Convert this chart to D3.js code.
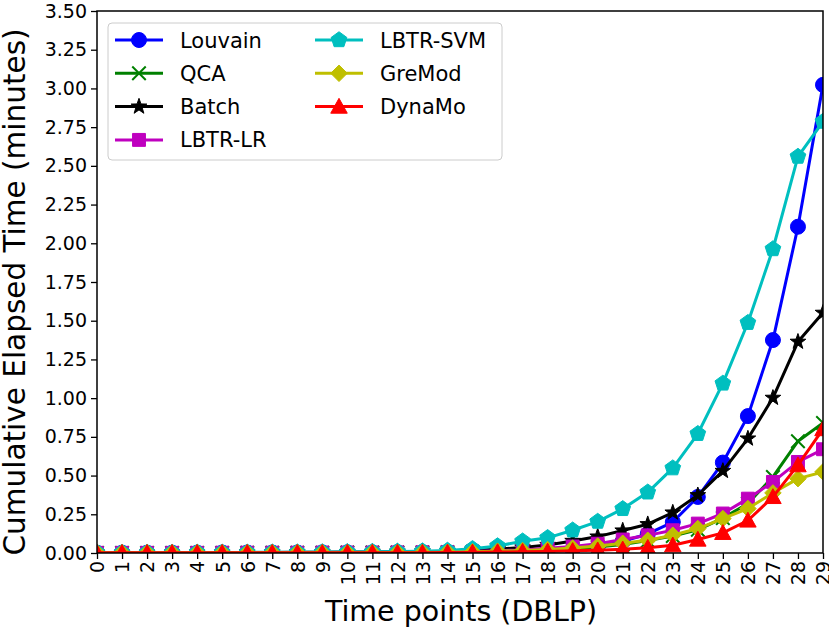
<!DOCTYPE html>
<html>
<head>
<meta charset="utf-8">
<script src="https://cdn.jsdelivr.net/npm/d3@7"></script>
<style>
  body { margin: 0; background: #fff; }
  text { font-family: "DejaVu Sans", sans-serif; fill: #000; }
</style>
</head>
<body>
<svg id="chart" width="829" height="630"></svg>
<script>
// time points 0..29
var timePoints = d3.range(0, 30);
var yTicks = [0, 0.25, 0.5, 0.75, 1, 1.25, 1.5, 1.75, 2, 2.25, 2.5, 2.75, 3, 3.25, 3.5];

var seriesNames = ["Louvain", "QCA", "Batch", "LBTR-LR", "LBTR-SVM", "GreMod", "DynaMo"];
var seriesColors = ["#0000ff", "#008000", "#000000", "#bf00bf", "#00bfbf", "#bfbf00", "#ff0000"];
var seriesMarkers = ["circle", "x", "star", "square", "pentagon", "diamond", "triangle"];

var louvain = [0.002,0.002,0.002,0.002,0.002,0.003,0.003,0.003,0.003,0.004,0.004,0.004,0.005,0.005,0.006,0.007,0.009,0.012,0.016,0.024,0.04,0.076,0.123,0.2,0.362,0.584,0.884,1.375,2.107,3.023];
var qca = [0.001,0.001,0.001,0.001,0.001,0.001,0.002,0.002,0.002,0.002,0.003,0.003,0.003,0.004,0.005,0.006,0.008,0.012,0.018,0.026,0.038,0.055,0.08,0.11,0.15,0.225,0.32,0.491,0.722,0.84];
var batch = [0.002,0.002,0.002,0.003,0.003,0.003,0.004,0.004,0.005,0.005,0.006,0.007,0.008,0.01,0.012,0.018,0.025,0.035,0.052,0.078,0.106,0.145,0.186,0.261,0.373,0.53,0.739,1.002,1.364,1.551];
var lbtrLr = [0.001,0.001,0.001,0.001,0.001,0.002,0.002,0.002,0.002,0.003,0.003,0.003,0.004,0.005,0.006,0.01,0.015,0.02,0.03,0.042,0.06,0.087,0.114,0.147,0.19,0.255,0.351,0.459,0.588,0.67];
var lbtrSvm = [0.003,0.003,0.003,0.003,0.004,0.004,0.004,0.005,0.005,0.006,0.007,0.008,0.01,0.012,0.016,0.027,0.045,0.076,0.098,0.147,0.203,0.285,0.392,0.548,0.77,1.095,1.487,1.963,2.56,2.786];
var greMod = [0.001,0.001,0.001,0.001,0.001,0.001,0.001,0.002,0.002,0.002,0.002,0.003,0.003,0.004,0.005,0.008,0.012,0.016,0.022,0.032,0.045,0.063,0.082,0.115,0.158,0.222,0.287,0.388,0.48,0.524];
var dynaMo = [0.001,0.001,0.001,0.001,0.001,0.001,0.001,0.001,0.001,0.001,0.002,0.002,0.002,0.002,0.003,0.004,0.006,0.008,0.01,0.014,0.018,0.024,0.034,0.05,0.087,0.13,0.21,0.362,0.567,0.8];

var seriesValues = [louvain, qca, batch, lbtrLr, lbtrSvm, greMod, dynaMo];

var margin = {left: 97, right: 6, top: 11, bottom: 77};
var width = 829 - margin.left - margin.right;
var height = 630 - margin.top - margin.bottom;

var svg = d3.select("#chart");
var g = svg.append("g").attr("transform", "translate(" + margin.left + "," + margin.top + ")");

var x = d3.scaleLinear().domain([0, 29]).range([0, width]);
var y = d3.scaleLinear().domain([0, 3.5]).range([height, 0]);

//marker path builders, sizes in px
function markerPath(kind, s) {
    var p = d3.path(), i, a, r;
    if (kind === "circle") {
        p.arc(0, 0, s * 0.5, 0, 2 * Math.PI);
    } else if (kind === "square") {
        r = s * 0.43;
        p.rect(-r, -r, 2 * r, 2 * r);
    } else if (kind === "diamond") {
        r = s * 0.55;
        p.moveTo(0, -r); p.lineTo(r, 0); p.lineTo(0, r); p.lineTo(-r, 0); p.closePath();
    } else if (kind === "triangle") {
        r = s * 0.55;
        p.moveTo(0, -r); p.lineTo(r, r * 0.8); p.lineTo(-r, r * 0.8); p.closePath();
    } else if (kind === "pentagon") {
        r = s * 0.55;
        for (i = 0; i < 5; i++) {
            a = -Math.PI / 2 + i * 2 * Math.PI / 5;
            if (i === 0) p.moveTo(r * Math.cos(a), r * Math.sin(a)); else p.lineTo(r * Math.cos(a), r * Math.sin(a));
        }
        p.closePath();
    } else if (kind === "star") {
        r = s * 0.55;
        for (i = 0; i < 10; i++) {
            a = -Math.PI / 2 + i * Math.PI / 5;
            var rr = i % 2 === 0 ? r : r * 0.4;
            if (i === 0) p.moveTo(rr * Math.cos(a), rr * Math.sin(a)); else p.lineTo(rr * Math.cos(a), rr * Math.sin(a));
        }
        p.closePath();
    } else if (kind === "x") {
        r = s * 0.45;
        p.moveTo(-r, -r); p.lineTo(r, r); p.moveTo(-r, r); p.lineTo(r, -r);
    }
    return p.toString();
}

function drawMarker(sel, kind, color, s) {
    sel.append("path")
        .attr("d", markerPath(kind, s))
        .attr("fill", kind === "x" ? "none" : color)
        .attr("stroke", color)
        .attr("stroke-width", kind === "x" ? 2 : 1);
}

//clip to the axes box
svg.append("defs").append("clipPath").attr("id", "plot-clip")
    .append("rect").attr("width", width).attr("height", height);

var plot = g.append("g").attr("clip-path", "url(#plot-clip)");

var line = d3.line().x(function (d, i) { return x(timePoints[i]); }).y(function (d) { return y(d); });

seriesValues.forEach(function (vals, k) {
    var sg = plot.append("g");
    sg.append("path").datum(vals)
        .attr("d", line)
        .attr("fill", "none")
        .attr("stroke", seriesColors[k])
        .attr("stroke-width", 3)
        .attr("stroke-linejoin", "round");
    vals.forEach(function (v, i) {
        var m = sg.append("g").attr("transform", "translate(" + x(timePoints[i]) + "," + y(v) + ")");
        drawMarker(m, seriesMarkers[k], seriesColors[k], 15);
    });
});

//axes
var xAxis = d3.axisBottom(x).tickValues(timePoints).tickSize(6).tickSizeOuter(0).tickFormat(d3.format("d"));
var yAxis = d3.axisLeft(y).tickValues(yTicks).tickSize(6).tickSizeOuter(0).tickFormat(d3.format(".2f"));

var gx = g.append("g").attr("transform", "translate(0," + height + ")").call(xAxis);
gx.select(".domain").remove();
gx.selectAll("line").attr("stroke", "#000").attr("stroke-width", 1.3);
gx.selectAll("text")
    .style("font-size", "19px")
    .attr("text-anchor", "end")
    .attr("transform", "rotate(-90)")
    .attr("x", -8)
    .attr("y", 0)
    .attr("dy", "0.36em");

var gy = g.append("g").call(yAxis);
gy.select(".domain").remove();
gy.selectAll("line").attr("stroke", "#000").attr("stroke-width", 1.3);
gy.selectAll("text").style("font-size", "19px").attr("x", -10);

//frame
g.append("rect").attr("width", width).attr("height", height)
    .attr("fill", "none").attr("stroke", "#000").attr("stroke-width", 1.5);

//axis labels
svg.append("text")
    .attr("x", 461).attr("y", 621)
    .attr("text-anchor", "middle").style("font-size", "28.5px")
    .text("Time points (DBLP)");
svg.append("text")
    .attr("transform", "translate(25,292) rotate(-90)")
    .attr("text-anchor", "middle").style("font-size", "29.5px")
    .text("Cumulative Elapsed Time (minutes)");

//legend
var legend = svg.append("g");
legend.append("rect")
    .attr("x", 108).attr("y", 23).attr("width", 394).attr("height", 137)
    .attr("rx", 4).attr("fill", "#fff").attr("fill-opacity", 0.8)
    .attr("stroke", "#cccccc").attr("stroke-width", 1);

seriesNames.forEach(function (name, k) {
    var col = k < 4 ? 0 : 1;
    var row = k < 4 ? k : k - 4;
    var lx = col === 0 ? 115 : 315;
    var ly = 40 + row * 33.3;
    var it = legend.append("g");
    it.append("line").attr("x1", lx).attr("x2", lx + 48).attr("y1", ly).attr("y2", ly)
        .attr("stroke", seriesColors[k]).attr("stroke-width", 3);
    var m = it.append("g").attr("transform", "translate(" + (lx + 24) + "," + ly + ")");
    drawMarker(m, seriesMarkers[k], seriesColors[k], 15);
    it.append("text").attr("x", lx + 65).attr("y", ly).attr("dy", "0.36em")
        .style("font-size", "21px").text(name);
});
</script>
</body>
</html>
